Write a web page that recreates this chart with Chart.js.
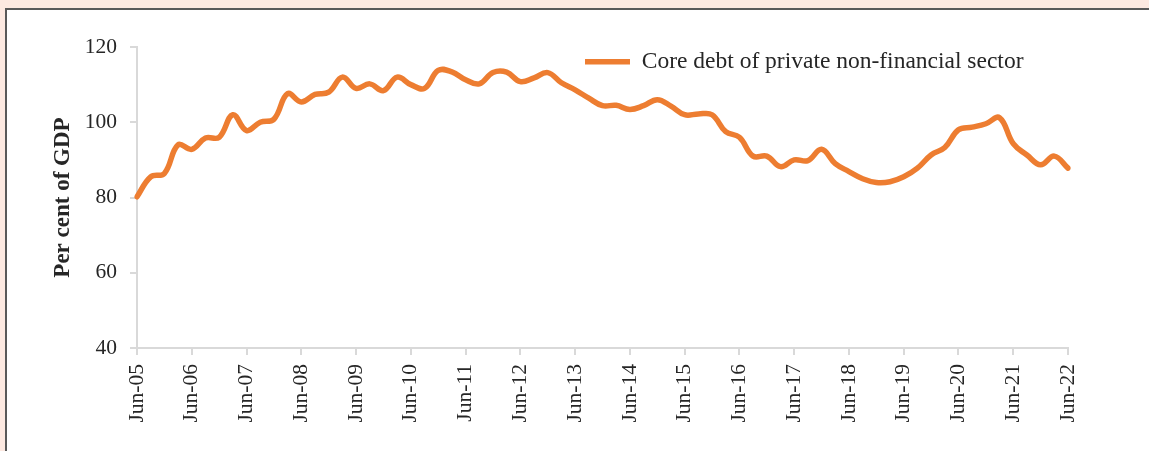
<!DOCTYPE html>
<html>
<head>
<meta charset="utf-8">
<script src="https://cdn.jsdelivr.net/npm/chart.js@4/dist/chart.umd.min.js"></script>
<style>
  html, body { margin: 0; padding: 0; overflow: hidden; background: #ffffff; }
  .pink { position: fixed; background: rgb(253,233,225); }
  #pinkTop { left: 0; top: 0; width: 1300px; height: 8px; }
  #pinkLeft { left: 0; top: 0; width: 5px; height: 600px; }
  #lineTop { position: fixed; left: 5px; top: 8px; width: 1300px; height: 2px; background: #595959; }
  #lineLeft { position: fixed; left: 5px; top: 8px; width: 2px; height: 600px; background: #595959; }
  #wrap { position: fixed; left: 0; top: 0; width: 1149px; height: 451px; }
</style>
</head>
<body>
<div id="pinkTop" class="pink"></div>
<div id="pinkLeft" class="pink"></div>
<div id="lineTop"></div>
<div id="lineLeft"></div>
<div id="wrap"><canvas id="c" width="1149" height="451"></canvas></div>
<script>
const categories = [
  'Jun-05','Sep-05','Dec-05','Mar-06','Jun-06','Sep-06','Dec-06','Mar-07',
  'Jun-07','Sep-07','Dec-07','Mar-08','Jun-08','Sep-08','Dec-08','Mar-09',
  'Jun-09','Sep-09','Dec-09','Mar-10','Jun-10','Sep-10','Dec-10','Mar-11',
  'Jun-11','Sep-11','Dec-11','Mar-12','Jun-12','Sep-12','Dec-12','Mar-13',
  'Jun-13','Sep-13','Dec-13','Mar-14','Jun-14','Sep-14','Dec-14','Mar-15',
  'Jun-15','Sep-15','Dec-15','Mar-16','Jun-16','Sep-16','Dec-16','Mar-17',
  'Jun-17','Sep-17','Dec-17','Mar-18','Jun-18','Sep-18','Dec-18','Mar-19',
  'Jun-19','Sep-19','Dec-19','Mar-20','Jun-20','Sep-20','Dec-20','Mar-21',
  'Jun-21','Sep-21','Dec-21','Mar-22','Jun-22'
];
const coreDebt = [
  80.2, 85.5, 86.4, 94.0, 92.8, 95.8, 96.0, 102.0,
  97.8, 100.0, 100.8, 107.6, 105.4, 107.4, 108.0, 112.0,
  109.0, 110.2, 108.4, 112.0, 110.0, 109.0, 113.8, 113.4,
  111.3, 110.2, 113.2, 113.3, 110.8, 111.8, 113.2, 110.5,
  108.6, 106.4, 104.4, 104.5, 103.4, 104.4, 106.0, 104.3,
  102.0, 102.2, 102.0, 97.5, 96.0, 91.0, 91.0, 88.2,
  90.0, 89.8, 92.8, 89.0, 86.9, 85.0, 84.0, 84.2,
  85.5, 87.8, 91.3, 93.3, 98.0, 98.7, 99.6, 101.2,
  94.3, 91.3, 88.7, 91.0, 87.8
];
const seriesName = 'Core debt of private non-financial sector';
const yTicks = { min: 40, max: 120, step: 20 };
const yTitle = 'Per cent of GDP';

const ORANGE = 'rgb(237,125,49)';
const AXIS = '#d9d9d9';
const TEXT = '#262626';
const FONT = "'Liberation Serif', 'Times New Roman', serif";

const legendPlace = {
  id: 'legendPlace',
  afterLayout(chart) {
    const lg = chart.legend;
    if (!lg) return;
    const w = lg.right - lg.left;
    const h = lg.bottom - lg.top;
    lg.left = 582;
    lg.right = 582 + w;
    lg.top = chart.chartArea.top;
    lg.bottom = lg.top + h;
  }
};

new Chart(document.getElementById('c'), {
  type: 'line',
  data: {
    labels: categories,
    datasets: [{
      label: seriesName,
      data: coreDebt,
      borderColor: ORANGE,
      backgroundColor: ORANGE,
      borderWidth: 5.5,
      borderCapStyle: 'round',
      borderJoinStyle: 'round',
      pointRadius: 0,
      pointHoverRadius: 0,
      tension: 0.4,
      fill: false
    }]
  },
  plugins: [legendPlace],
  options: {
    responsive: false,
    animation: false,
    layout: { padding: { left: 0, top: 47, right: 81, bottom: 0 } },
    plugins: {
      tooltip: { enabled: false },
      legend: {
        position: 'chartArea',
        align: 'start',
        labels: {
          usePointStyle: true,
          pointStyle: 'line',
          pointStyleWidth: 45,
          padding: 3,
          color: TEXT,
          font: { family: FONT, size: 23.5 }
        }
      }
    },
    scales: {
      x: {
        type: 'category',
        offset: false,
        afterFit(scale) { scale.height = 103; },
        border: { color: AXIS, width: 2 },
        grid: { display: true, drawOnChartArea: false, drawTicks: true, tickLength: 7, color: AXIS, lineWidth: 2 },
        ticks: {
          autoSkip: false,
          maxRotation: 90,
          minRotation: 90,
          padding: 9,
          color: TEXT,
          font: { family: FONT, size: 21.5 },
          callback: function (val, idx) {
            return idx % 4 === 0 ? categories[idx] : null;
          }
        }
      },
      y: {
        min: yTicks.min,
        max: yTicks.max,
        afterFit(scale) { scale.width = 137; },
        border: { color: AXIS, width: 2 },
        grid: { display: true, drawOnChartArea: false, drawTicks: true, tickLength: 7, color: AXIS, lineWidth: 2 },
        ticks: {
          stepSize: yTicks.step,
          padding: 13,
          color: TEXT,
          font: { family: FONT, size: 21.5 }
        },
        title: {
          display: true,
          text: yTitle,
          color: TEXT,
          padding: { top: 52, bottom: 0 },
          font: { family: FONT, size: 23, weight: 'bold', lineHeight: 1 }
        }
      }
    }
  }
});
</script>
</body>
</html>
